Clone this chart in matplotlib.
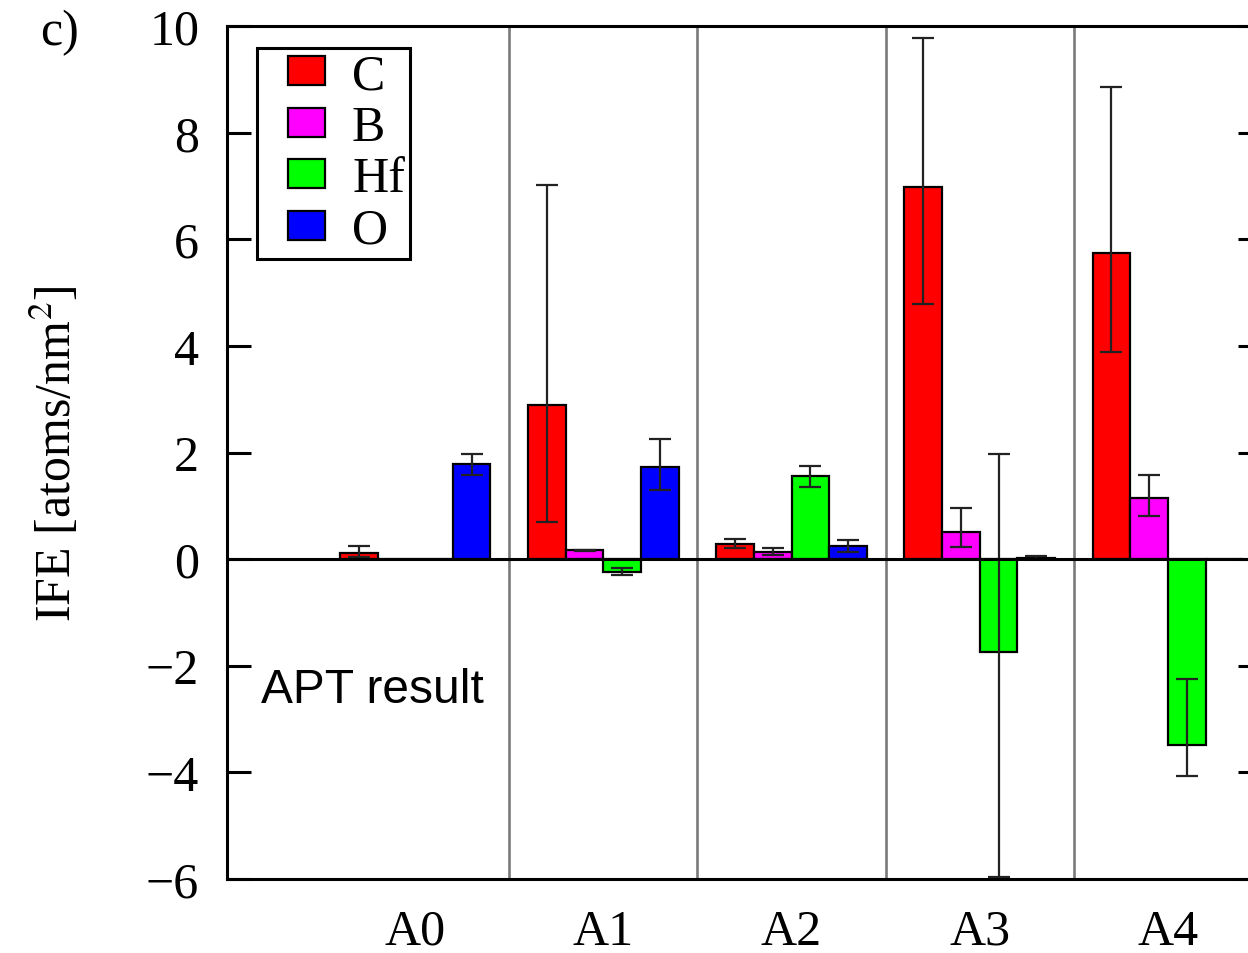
import matplotlib.pyplot as plt
import matplotlib.patches as mpatches
from matplotlib.legend_handler import HandlerPatch
import numpy as np

groups = ['A0', 'A1', 'A2', 'A3', 'A4']
species = ['C', 'B', 'Hf', 'O']
colors = ['#ff0000', '#ff00ff', '#00ff00', '#0000ff']

# IFE values per species across A0..A4
ife_C = [0.12, 2.89, 0.29, 6.98, 5.74]
ife_B = [0.0, 0.17, 0.14, 0.50, 1.15]
ife_Hf = [0.0, -0.25, 1.56, -1.74, -3.48]
ife_O = [1.78, 1.73, 0.24, 0.02, 0.0]

# asymmetric errors (lower, upper)
err_C_lo = [0.08, 2.20, 0.08, 2.20, 1.86]
err_C_hi = [0.12, 4.13, 0.08, 2.79, 3.12]
err_B_lo = [0.0, 0.01, 0.06, 0.27, 0.35]
err_B_hi = [0.0, 0.01, 0.06, 0.46, 0.43]
err_Hf_lo = [0.0, 0.05, 0.20, 4.23, 0.58]
err_Hf_hi = [0.0, 0.09, 0.19, 3.72, 1.23]
err_O_lo = [0.20, 0.43, 0.10, 0.02, 0.0]
err_O_hi = [0.20, 0.53, 0.11, 0.03, 0.0]

values = [ife_C, ife_B, ife_Hf, ife_O]
err_lo = [err_C_lo, err_B_lo, err_Hf_lo, err_O_lo]
err_hi = [err_C_hi, err_B_hi, err_Hf_hi, err_O_hi]

plt.rcParams['font.family'] = ['Liberation Serif', 'DejaVu Serif']
plt.rcParams['mathtext.fontset'] = 'stix'

fig = plt.figure(figsize=(12.48, 9.54), dpi=100)
ax = fig.add_axes([227 / 1248, 74 / 954, 1035 / 1248, 853 / 954])

x = np.arange(len(groups))
width = 0.2
for k in range(len(species)):
    pos = x + (k - 1.5) * width
    ax.bar(pos, values[k], width, color=colors[k], edgecolor='black',
           linewidth=1.6, zorder=2)
    lo = np.array(err_lo[k])
    hi = np.array(err_hi[k])
    mask = (lo + hi) > 0
    ax.errorbar(pos[mask], np.array(values[k])[mask],
                yerr=[lo[mask], hi[mask]], fmt='none', ecolor='#222222',
                elinewidth=1.6, capsize=8, capthick=1.6, zorder=3)

# group separators
for s in x[:-1] + 0.5:
    ax.axvline(s, color='#7a7a7a', linewidth=1.9, zorder=1)
ax.axhline(0, color='black', linewidth=2.2, zorder=4)

ax.set_xlim(-1, 4.5)
ax.set_ylim(-6, 10)
ax.set_yticks(np.arange(-6, 11, 2))
ax.set_xticks(x)
ax.set_xticklabels(groups)

for sp in ax.spines.values():
    sp.set_linewidth(2.2)
ax.tick_params(axis='y', direction='in', length=17, width=2.2,
               left=True, right=True, labelsize=36, pad=20)
ax.tick_params(axis='x', length=0, labelsize=36, pad=21)

ax.set_ylabel('IFE [atoms/nm$^2$]', fontsize=36, labelpad=46)

ax.text(-0.82, -2.45, 'APT result', fontsize=34.5, family='Liberation Sans',
        va='center', ha='left')

fig.text(40 / 1248, 1 - 33 / 954, 'c)', fontsize=36, va='center', ha='left')


# legend swatch sits at the right side of a wider handle box
def swatch(legend, orig_handle, xdescent, ydescent, width, height, fontsize):
    w = 26
    return mpatches.Rectangle((width - w - xdescent, -ydescent), w, height)


handles = [mpatches.Patch(facecolor=c, edgecolor='black', linewidth=1.6)
           for c in colors]
leg = ax.legend(handles, species, loc='upper left',
                bbox_to_anchor=(30 / 1035, 1 - 22 / 853),
                borderaxespad=0, fontsize=36, fancybox=False, framealpha=1,
                edgecolor='black', handlelength=1.25, handleheight=0.52,
                handletextpad=0.55, labelspacing=0.1, borderpad=0.1,
                handler_map={mpatches.Patch: HandlerPatch(patch_func=swatch)})
leg.get_frame().set_linewidth(2.2)

fig.savefig('out.png', dpi=100)
